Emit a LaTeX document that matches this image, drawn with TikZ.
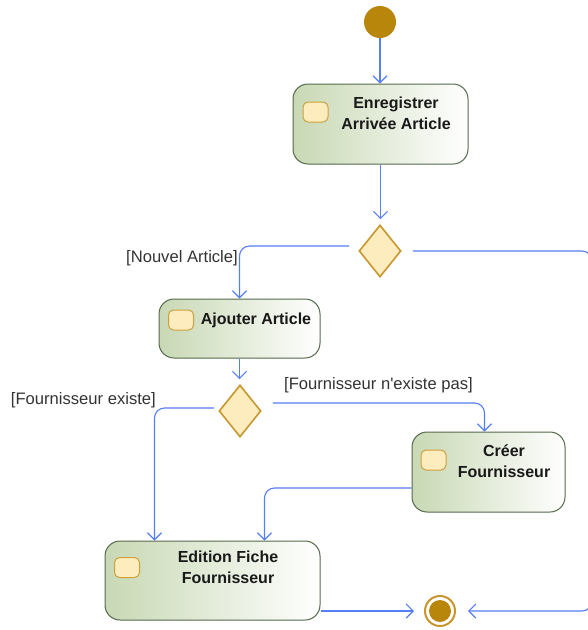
\documentclass[tikz,border=0pt]{standalone}
\usepackage{fontspec}
\setmainfont{Liberation Sans}
\usetikzlibrary{shapes.geometric,arrows.meta}

\definecolor{flowblue}{RGB}{85,125,245}
\definecolor{actgreen}{RGB}{200,216,180}
\definecolor{actborder}{RGB}{85,105,75}
\definecolor{pinfill}{RGB}{253,236,190}
\definecolor{pinborder}{RGB}{205,160,60}
\definecolor{gold}{RGB}{184,134,11}
\definecolor{goldring}{RGB}{200,150,45}

\tikzset{
  action/.style={rectangle, rounded corners=15pt, draw=actborder, line width=1pt,
    left color=actgreen, right color=white, inner sep=0pt},
  pin/.style={rectangle, rounded corners=5pt, draw=pinborder, line width=1pt,
    fill=pinfill, minimum width=25pt, minimum height=20pt, inner sep=0pt},
  choice/.style={diamond, draw=goldring, line width=1.6pt, fill=pinfill,
    minimum width=42pt, minimum height=52pt, inner sep=0pt},
  flow/.style={draw=flowblue, line width=1.1pt,
    -{Straight Barb[length=7pt,width=14pt]}, rounded corners=10pt},
  actname/.style={font=\fontsize{16}{21}\selectfont\bfseries, text=black!90,
    align=center, inner sep=0pt},
  guard/.style={font=\fontsize{16.6}{20}\selectfont, text=black!80, inner sep=0pt},
}

\begin{document}
\begin{tikzpicture}[x=1pt,y=-1pt]

        \useasboundingbox (0,0) rectangle (588,630);
        \clip (0,0) rectangle (588,630);

        % start and end
            \node[circle, fill=gold, minimum size=32pt, inner sep=0pt] (init) at (380,22) {};
            \node[circle, draw=goldring, line width=2pt, minimum size=30pt, inner sep=0pt] (final) at (440,611) {};
            \fill[gold] (final) circle (11pt);
            \coordinate (edge) at (592,0);

        % actions
            \node[action, minimum width=175pt, minimum height=80pt] (enreg) at (380.5,124) {};
            \node[pin] (enreg-pin) at (315.5,112) {};
            \node[actname] (enreg-txt) at (396,113) {Enregistrer\\Arrivée Article};

            \node[action, minimum width=161pt, minimum height=59pt] (ajout) at (239.5,328.5) {};
            \node[pin] (ajout-pin) at (181,320) {};
            \node[actname] (ajout-txt) at (256,320) {Ajouter Article};

            \node[action, minimum width=153pt, minimum height=80pt] (creer) at (488.5,472) {};
            \node[pin] (creer-pin) at (433.5,460) {};
            \node[actname] (creer-txt) at (504,461) {Créer\\Fournisseur};

            \node[action, minimum width=215pt, minimum height=79pt] (edition) at (212.5,580.5) {};
            \node[pin] (edition-pin) at (127,567.5) {};
            \node[actname] (edition-txt) at (228,567) {Edition Fiche\\Fournisseur};

        % decisions
            \node[choice] (dec1) at (380,251) {};
            \node[choice] (dec2) at (240,411) {};

        % guards
            \node[guard, anchor=east] (g-nouvel) at (238,258) {[Nouvel Article]};
            \node[guard, anchor=east] (g-existe) at (156,400) {[Fournisseur existe]};
            \node[guard, anchor=west] (g-pas) at (284,385) {[Fournisseur n\textquotesingle existe pas]};

        % flows
            \draw[flow] (init) -- (enreg.north -| init);
            \draw[flow, shorten >=5pt] (enreg.south) -- (enreg.south |- dec1.north);
            \draw[flow, shorten <=9pt] ([yshift=5pt]dec1.west) -| (ajout.north);
            \draw[flow, shorten <=11pt, shorten >=12pt] (dec1.east) -- (dec1.east -| edge) |- (final.east);
            \draw[flow, shorten >=5pt] (ajout.south) -- (ajout.south |- dec2.north);
            \draw[flow, shorten <=4pt] ([yshift=3pt]dec2.west) -| ([xshift=50pt]edition.north west);
            \draw[flow, shorten <=11pt] ([yshift=8pt]dec2.east) -| ([xshift=-4pt]creer.north);
            \draw[flow] ([yshift=-16pt]creer.west) -| ([xshift=160pt]edition.north west);
            \draw[flow, shorten >=10pt] (final -| edition.east) -- (final.west);
        \end{tikzpicture}
\end{document}
